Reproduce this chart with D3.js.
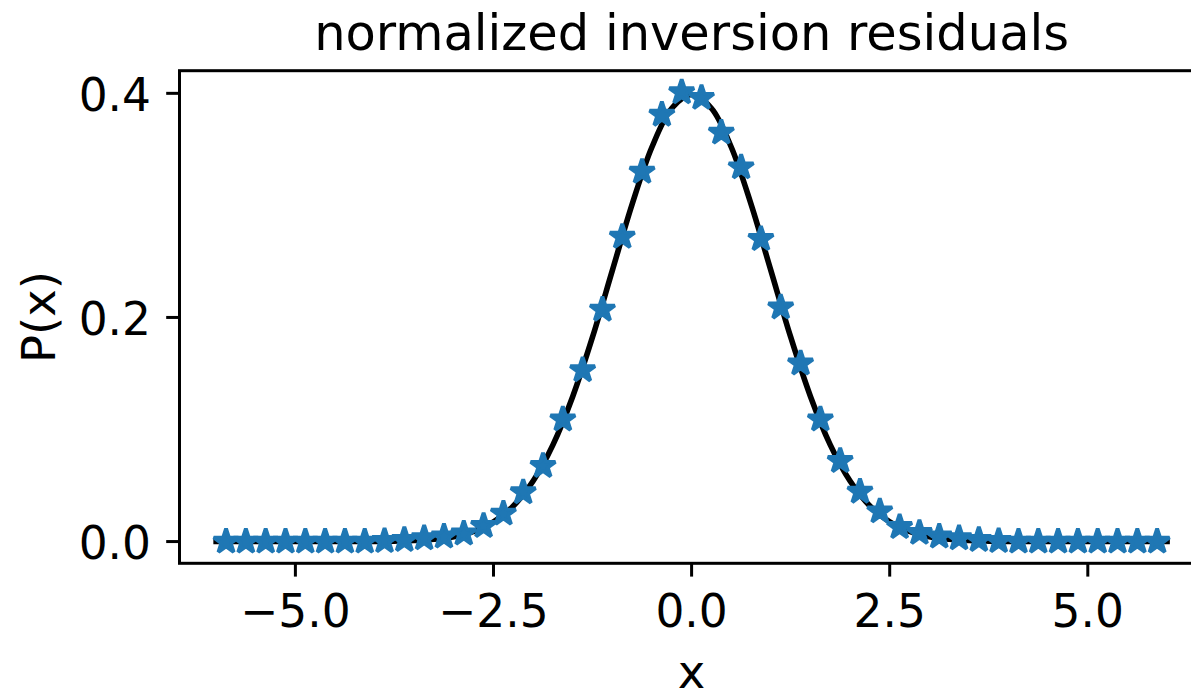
<!DOCTYPE html>
<html>
<head>
<meta charset="utf-8">
<script src="https://cdn.jsdelivr.net/npm/d3@7"></script>
<style>
  html, body { margin: 0; padding: 0; background: #fff; }
  svg { display: block; }
  text { font-family: "DejaVu Sans", sans-serif; fill: #000; }
</style>
</head>
<body>
<svg id="chart" width="1191" height="693"></svg>
<script>
// ---- data ----
const titleText = "normalized inversion residuals";
const xLabel = "x";
const yLabel = "P(x)";
const xTicks = [-5.0, -2.5, 0.0, 2.5, 5.0];
const yTicks = [0.0, 0.2, 0.4];

// star markers: bin centres and estimated densities
const starX = [-5.875, -5.625, -5.375, -5.125, -4.875, -4.625, -4.375, -4.125,
  -3.875, -3.625, -3.375, -3.125, -2.875, -2.625, -2.375, -2.125,
  -1.875, -1.625, -1.375, -1.125, -0.875, -0.625, -0.375, -0.125,
  0.125, 0.375, 0.625, 0.875, 1.125, 1.375, 1.625, 1.875,
  2.125, 2.375, 2.625, 2.875, 3.125, 3.375, 3.625, 3.875,
  4.125, 4.375, 4.625, 4.875, 5.125, 5.375, 5.625, 5.875];
const starY = [0, 0, 0, 0, 0, 0, 0, 0,
  0.0005, 0.0015, 0.003, 0.0045, 0.0072, 0.014, 0.025, 0.044,
  0.0675, 0.109, 0.153, 0.207, 0.272, 0.330, 0.381, 0.401,
  0.396, 0.365, 0.334, 0.270, 0.209, 0.159, 0.109, 0.072,
  0.0446, 0.027, 0.013, 0.0078, 0.0045, 0.003, 0.0015, 0.0005,
  0, 0, 0, 0, 0, 0, 0, 0];

// black reference curve
const curveX = [-6, -5.5, -5, -4.5, -4.25, -4, -3.75, -3.5, -3.25, -3, -2.75, -2.5, -2.25, -2,
  -1.75, -1.5, -1.25, -1, -0.75, -0.5, -0.25, 0, 0.25, 0.5, 0.75, 1, 1.25, 1.5, 1.75,
  2, 2.25, 2.5, 2.75, 3, 3.25, 3.5, 3.75, 4, 4.25, 4.5, 5, 5.5, 6];
const curveY = [0, 0, 0, 0, 0.00005, 0.0001, 0.0004, 0.0009, 0.0020, 0.0044, 0.0091, 0.0175, 0.0317, 0.0540,
  0.0863, 0.1295, 0.1826, 0.2420, 0.3011, 0.3521, 0.3867, 0.3989, 0.3867, 0.3521, 0.3011, 0.2420, 0.1826, 0.1295, 0.0863,
  0.0540, 0.0317, 0.0175, 0.0091, 0.0044, 0.0020, 0.0009, 0.0004, 0.0001, 0.00005, 0, 0, 0, 0];

// ---- layout ----
const svg = d3.select("#chart");
const L = 179.5, R = 1203.7, T = 70.7, B = 563.3;
const x = d3.scaleLinear().domain([-6.4625, 6.4625]).range([L, R]);
const y = d3.scaleLinear().domain([-0.0194, 0.4202]).range([B, T]);
const blue = "#1f77b4";

svg.append("clipPath").attr("id", "clip")
  .append("rect").attr("x", L).attr("y", T).attr("width", R - L).attr("height", B - T);

const plot = svg.append("g").attr("clip-path", "url(#clip)");

// curve
const line = d3.line().x(d => x(d[0])).y(d => y(d[1])).curve(d3.curveCatmullRom.alpha(0.5));
plot.append("path")
  .datum(curveX.map((v, i) => [v, curveY[i]]))
  .attr("d", line)
  .attr("fill", "none")
  .attr("stroke", "#000")
  .attr("stroke-width", 5.6)
  .attr("stroke-linejoin", "round")
  .attr("stroke-linecap", "square");

// stars
const starR = 13;
const star = d3.symbol().type(d3.symbolStar).size(starR * starR / 0.8908130915292852);
plot.selectAll("path.star")
  .data(starX.map((v, i) => [v, starY[i]]))
  .join("path")
  .attr("class", "star")
  .attr("d", star)
  .attr("transform", d => `translate(${x(d[0])},${y(d[1])})`)
  .attr("fill", blue)
  .attr("stroke", blue)
  .attr("stroke-width", 3.8)
  .attr("stroke-linejoin", "bevel");

// spines
const spines = svg.append("g").attr("stroke", "#000").attr("stroke-width", 3).attr("fill", "none");
spines.append("rect").attr("x", L).attr("y", T).attr("width", R - L).attr("height", B - T)
  .attr("stroke-linejoin", "miter");

// x ticks
const fmt = v => d3.format(".1f")(v).replace("-", "\u2212");
const xt = svg.append("g");
xTicks.forEach(v => {
  xt.append("line").attr("x1", x(v)).attr("x2", x(v)).attr("y1", B).attr("y2", B + 13.3)
    .attr("stroke", "#000").attr("stroke-width", 3);
  xt.append("text").attr("x", x(v)).attr("y", 627).attr("text-anchor", "middle")
    .attr("font-size", 45.5).text(fmt(v));
});

// y ticks
const yt = svg.append("g");
yTicks.forEach(v => {
  yt.append("line").attr("x1", L).attr("x2", L - 13.3).attr("y1", y(v)).attr("y2", y(v))
    .attr("stroke", "#000").attr("stroke-width", 3);
  yt.append("text").attr("x", 151).attr("y", y(v) + 17.5).attr("text-anchor", "end")
    .attr("font-size", 45.5).text(fmt(v));
});

// labels
svg.append("text").attr("x", (L + R) / 2).attr("y", 688).attr("text-anchor", "middle")
  .attr("font-size", 46.5).text(xLabel);
svg.append("text").attr("transform", `translate(55,${(T + B) / 2}) rotate(-90)`)
  .attr("text-anchor", "middle").attr("font-size", 46.5).text(yLabel);
svg.append("text").attr("x", (L + R) / 2).attr("y", 50).attr("text-anchor", "middle")
  .attr("font-size", 49.5).text(titleText);
</script>
</body>
</html>
